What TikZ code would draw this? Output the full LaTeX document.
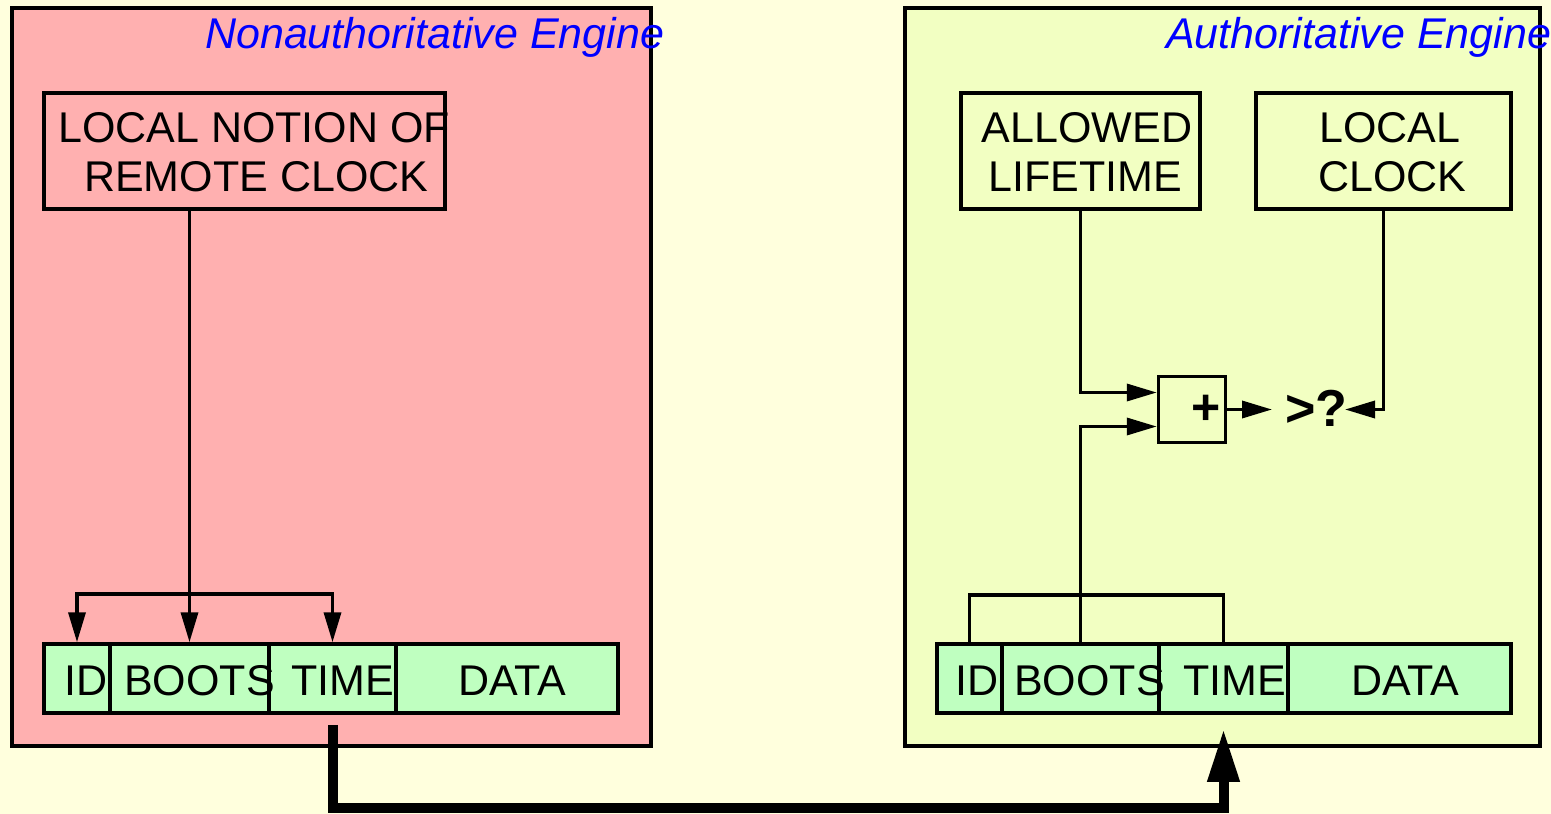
\documentclass[tikz,border=0pt]{standalone}
\usepackage{fontspec}
\setmainfont{Liberation Sans}
\usetikzlibrary{arrows.meta}
\definecolor{bgyellow}{HTML}{FFFFDD}
\definecolor{nonauth}{HTML}{FFB0B0}
\definecolor{auth}{HTML}{F2FFC2}
\definecolor{fieldgreen}{HTML}{BFFFC0}
\definecolor{titleblue}{HTML}{0000FF}
\begin{document}
\begin{tikzpicture}[x=1pt,y=-1pt,
  panel/.style={draw=black,line width=3.5pt},
  box/.style={draw=black,line width=3.5pt,inner sep=0pt,minimum height=116pt},
  fld/.style={draw=black,fill=fieldgreen,line width=3.5pt,inner sep=0pt,minimum height=69pt},
  lbl/.style={font=\fontsize{43}{49}\selectfont,inner sep=0pt},
  ttl/.style={font=\fontsize{43}{49}\selectfont\itshape,text=titleblue,inner sep=0pt,anchor=base west},
  conn/.style={draw=black,line width=3.5pt},
  tip/.tip={Triangle[length=30pt,width=17pt]},
  bigarrow/.style={draw=black,line width=10pt,line join=miter,-{Triangle[length=53pt,width=30pt]}}
]
\useasboundingbox (0,0) rectangle (1551,814);
\fill[bgyellow] (0,0) rectangle (1551,814);
% panels
\path[panel,fill=nonauth] (12,8) rectangle (651,746);
\path[panel,fill=auth] (905,8) rectangle (1540,746);
\node[ttl] (tleft) at (205,48) {Nonauthoritative Engine};
\node[ttl] (tright) at (1166,48) {Authoritative Engine};
% boxes
\node[box,minimum width=401pt] (remote) at (244.5,151) {};
\node[lbl,anchor=base west] (remote1) at (58,142) {LOCAL NOTION OF};
\node[lbl,anchor=base west] (remote2) at (84,191) {REMOTE CLOCK};
\node[box,minimum width=239pt] (allowed) at (1080.5,151) {};
\node[lbl,anchor=base] (allowed1) at (1087,142) {ALLOWED};
\node[lbl,anchor=base] (allowed2) at (1085.5,191) {LIFETIME};
\node[box,minimum width=255pt] (lclock) at (1383.5,151) {};
\node[lbl,anchor=base] (lclock1) at (1390,142) {LOCAL};
\node[lbl,anchor=base] (lclock2) at (1392.5,191) {CLOCK};
% plus and compare
\node[box,minimum width=67pt,minimum height=66pt] (plus) at (1192,409.5) {};
\node[inner sep=0pt,font=\fontsize{50}{50}\selectfont\bfseries] (plussign) at (1206,410) {+};
\node[inner sep=0pt,anchor=west,font=\fontsize{52}{52}\selectfont\bfseries] (gt) at (1285,408) {>?};
\coordinate (cmpL) at (1272,409.5);
\coordinate (cmpR) at (1345,409.5);
% left fields
\node[fld,minimum width=66pt] (lID) at (77,678.5) {};
\node[fld,minimum width=159pt] (lBOOTS) at (189.5,678.5) {};
\node[fld,minimum width=127pt] (lTIME) at (332.5,678.5) {};
\node[fld,minimum width=222pt] (lDATA) at (507,678.5) {};
\node[lbl,anchor=base west] (lIDt) at (64,695) {ID};
\node[lbl,anchor=base west] (lBOOTSt) at (124,695) {BOOTS};
\node[lbl,anchor=base west] (lTIMEt) at (291,695) {TIME};
\node[lbl,anchor=base west] (lDATAt) at (458,695) {DATA};
% right fields
\node[fld,minimum width=65pt] (rID) at (969.5,678.5) {};
\node[fld,minimum width=157pt] (rBOOTS) at (1080.5,678.5) {};
\node[fld,minimum width=129pt] (rTIME) at (1223.5,678.5) {};
\node[fld,minimum width=223pt] (rDATA) at (1399.5,678.5) {};
\node[lbl,anchor=base west] (rIDt) at (955,695) {ID};
\node[lbl,anchor=base west] (rBOOTSt) at (1014,695) {BOOTS};
\node[lbl,anchor=base west] (rTIMEt) at (1183,695) {TIME};
\node[lbl,anchor=base west] (rDATAt) at (1351,695) {DATA};
% left connectors
\coordinate (lbar) at (0,594);
\draw[conn,-{tip}] (lBOOTS.north |- remote.south) -- (lBOOTS.north);
\draw[conn,{tip}-{tip}] (lID.north) -- (lID.north |- lbar) -- (lTIME.north |- lbar) -- (lTIME.north);
% right connectors
\coordinate (rbar) at (0,595);
\draw[conn] (rID.north) -- (rID.north |- rbar) -- (rTIME.north |- rbar) -- (rTIME.north);
\draw[conn,-{tip}] (rBOOTS.north) |- ([yshift=-17pt]plus.west);
\draw[conn,-{tip}] (allowed.south) |- ([yshift=17pt]plus.west);
\draw[conn,-{tip}] (plus.east) -- (cmpL);
\draw[conn,-{tip}] (lclock.south) |- (cmpR);
% thick transfer arrow
\coordinate (wire) at (0,808);
\draw[bigarrow] ([yshift=-10pt]lTIME.south) -- (lTIME.south |- wire) -- (rTIME.south |- wire) -- ([yshift=-14pt]rTIME.south);
\end{tikzpicture}
\end{document}
